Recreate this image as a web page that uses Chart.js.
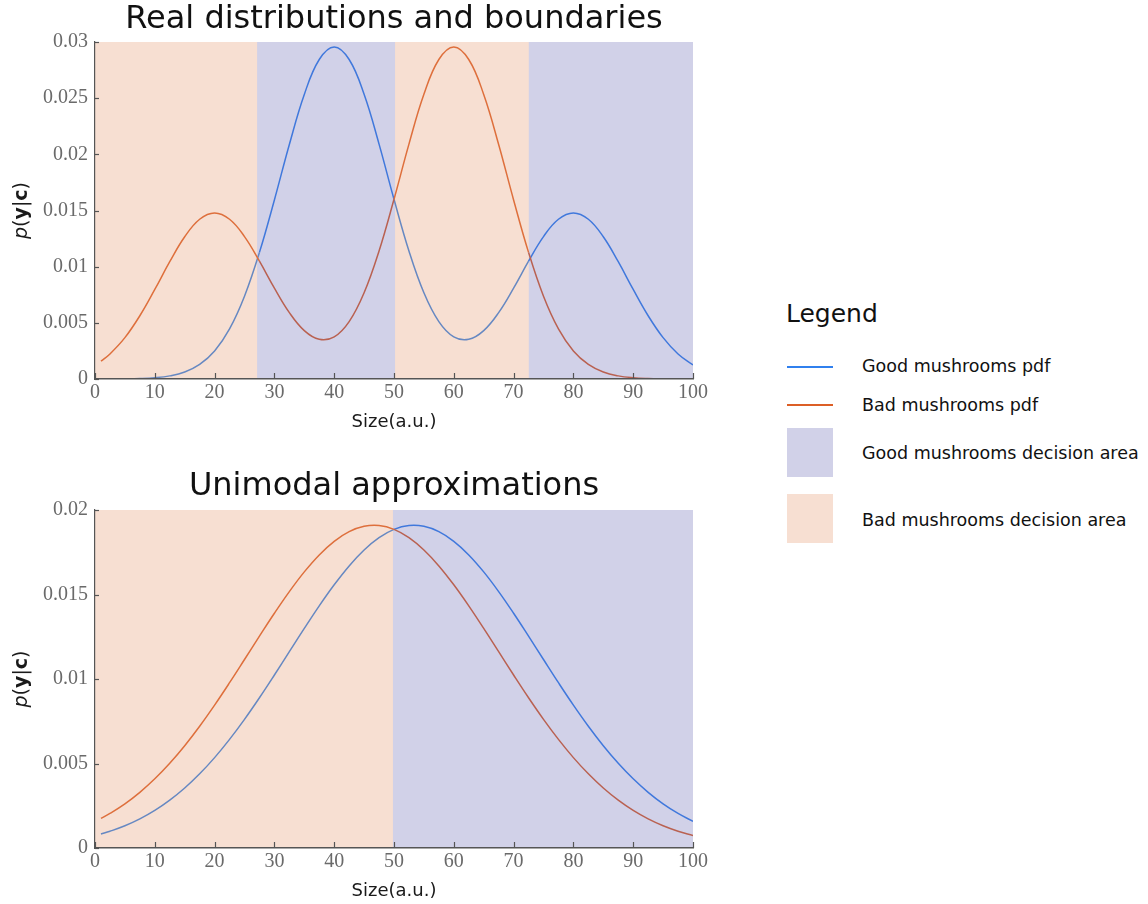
<!DOCTYPE html>
<html>
<head>
<meta charset="utf-8">
<script src="https://cdn.jsdelivr.net/npm/chart.js@4.4.1/dist/chart.umd.min.js"></script>
<style>
  html, body { margin: 0; padding: 0; background: #ffffff; }
  body { width: 1148px; height: 904px; position: relative; overflow: hidden; font-family: "DejaVu Sans", sans-serif; }
  canvas { position: absolute; left: 0; }
  #c1 { top: 0; }
  #c2 { top: 440px; }
  .lg { position: absolute; color: #111; white-space: nowrap; }
  .lgtitle { left: 786px; top: 301px; font-size: 25px; line-height: 25px; }
  .lgtext { left: 862px; font-size: 17.5px; line-height: 20px; }
  .lgline { position: absolute; left: 787px; width: 46px; height: 2px; }
  .lgbox { position: absolute; left: 787px; width: 46px; height: 49px; }
</style>
</head>
<body>
<canvas id="c1" width="720" height="440"></canvas>
<canvas id="c2" width="720" height="464"></canvas>

<div class="lg lgtitle">Legend</div>
<div class="lgline" style="top:366px;background:#3080ee"></div>
<div class="lg lgtext" style="top:356px">Good mushrooms pdf</div>
<div class="lgline" style="top:404px;background:#dc5f26"></div>
<div class="lg lgtext" style="top:395px">Bad mushrooms pdf</div>
<div class="lgbox" style="top:428px;background:#d1d1e8"></div>
<div class="lg lgtext" style="top:443px">Good mushrooms decision area</div>
<div class="lgbox" style="top:494px;background:#f7dfd2"></div>
<div class="lg lgtext" style="top:510px">Bad mushrooms decision area</div>

<script>
// ---------------- data ----------------
const xs = [1, 2.5, 5, 7.5, 10, 12.5, 15, 17.5, 20, 22.5, 25, 27.5, 30, 32.5, 35, 37.5, 40, 42.5, 45, 47.5, 50,
            52.5, 55, 57.5, 60, 62.5, 65, 67.5, 70, 72.5, 75, 77.5, 80, 82.5, 85, 87.5, 90, 92.5, 95, 97.5, 100];

const topGood = [0.0000025, 0.000005, 0.0000154, 0.0000436, 0.000114, 0.000278, 0.000624, 0.0013, 0.0025, 0.00446,
                 0.00737, 0.01127, 0.01594, 0.02088, 0.02533, 0.02844, 0.02956, 0.02844, 0.02534, 0.02091, 0.016,
                 0.0114, 0.00768, 0.00511, 0.00375, 0.00353, 0.00431, 0.00591, 0.00809, 0.01049, 0.01268,
                 0.01422, 0.01478, 0.01422, 0.01266, 0.01044, 0.00797, 0.00563, 0.00368, 0.00223, 0.00125];

const topBad = [0.00159, 0.00223, 0.00368, 0.00563, 0.00797, 0.01044, 0.01266, 0.01422, 0.01478, 0.01422,
                0.01268, 0.01049, 0.00809, 0.00591, 0.00431, 0.00353, 0.00375, 0.00511, 0.00768, 0.0114, 0.016,
                0.02091, 0.02534, 0.02844, 0.02956, 0.02844, 0.02533, 0.02088, 0.01594, 0.01127, 0.00737,
                0.00446, 0.0025, 0.0013, 0.000624, 0.000278, 0.000114, 0.0000436, 0.0000154, 0.000005, 0.0000015];

const bottomGood = [0.000829, 0.00099, 0.001315, 0.001722, 0.002222, 0.002829, 0.003548, 0.004388, 0.005348, 0.006427,
                    0.007613, 0.00889, 0.010235, 0.011615, 0.012993, 0.014329, 0.015576, 0.016693, 0.017634, 0.018364,
                    0.018853, 0.019079, 0.019033, 0.018718, 0.018146, 0.017342, 0.016338, 0.015173, 0.013891,
                    0.012536, 0.011153, 0.009781, 0.008456, 0.007207, 0.006055, 0.005014, 0.004094, 0.003295,
                    0.002614, 0.002045, 0.001576];

const bottomBad = [0.001752, 0.002045, 0.002614, 0.003295, 0.004094, 0.005014, 0.006055, 0.007207, 0.008456, 0.009781,
                   0.011153, 0.012536, 0.013891, 0.015173, 0.016338, 0.017342, 0.018146, 0.018718, 0.019033, 0.019079,
                   0.018853, 0.018364, 0.017634, 0.016693, 0.015576, 0.014329, 0.012993, 0.011615, 0.010235,
                   0.00889, 0.007613, 0.006427, 0.005348, 0.004388, 0.003548, 0.002829, 0.002222, 0.001722,
                   0.001315, 0.00099, 0.000734];

// decision areas: edges along x and the class of each interval
const topRegionEdges = [0, 27.3, 50, 72.7, 100];
const topRegionClasses = ['bad', 'good', 'bad', 'good'];
const bottomRegionEdges = [0, 50, 100];
const bottomRegionClasses = ['bad', 'good'];

const xTicks = [0, 10, 20, 30, 40, 50, 60, 70, 80, 90, 100];
const yTicksTop = [0, 0.005, 0.01, 0.015, 0.02, 0.025, 0.03];
const yTicksBottom = [0, 0.005, 0.01, 0.015, 0.02];

// ---------------- styling ----------------
const REGION_FILL = { good: '#d1d1e8', bad: '#f7dfd2' };
// line colour as seen through each decision area's tint
const LINE_COLORS = {
  good: { good: '#4078dc', bad: '#6688c2' },
  bad:  { good: '#b96151', bad: '#de6f3c' }
};
const TICK_FONT = { family: '"Liberation Serif", "Times New Roman", serif', size: 20 };
const TICK_COLOR = '#6a6a6a';
const AXIS_COLOR = '#555555';

const axisDecor = {
  id: 'axisDecor',
  afterDraw(chart) {
    const { ctx, chartArea: a, scales: { x, y } } = chart;
    ctx.save();
    ctx.strokeStyle = AXIS_COLOR;
    ctx.lineWidth = 1.2;
    x.ticks.forEach(t => {
      const px = Math.round(x.getPixelForValue(t.value)) + 0.5;
      ctx.beginPath(); ctx.moveTo(px, a.bottom); ctx.lineTo(px, a.bottom - 6); ctx.stroke();
    });
    y.ticks.forEach(t => {
      const py = Math.round(y.getPixelForValue(t.value)) + 0.5;
      ctx.beginPath(); ctx.moveTo(a.left, py); ctx.lineTo(a.left + 4, py); ctx.stroke();
    });
    // y axis title p(y|c) with mixed styles
    const fam = '"DejaVu Sans", sans-serif';
    const parts = [
      ['p', 'italic 19px ' + fam], ['(', '19px ' + fam], ['y', 'bold 19px ' + fam],
      ['|', '19px ' + fam], ['c', 'bold 19px ' + fam], [')', '19px ' + fam]
    ];
    let total = 0;
    parts.forEach(p => { ctx.font = p[1]; total += ctx.measureText(p[0]).width; });
    ctx.translate(22, (a.top + a.bottom) / 2);
    ctx.rotate(-Math.PI / 2);
    ctx.fillStyle = '#1a1a1a';
    ctx.textBaseline = 'middle';
    ctx.textAlign = 'left';
    let cx = -total / 2;
    parts.forEach(p => { ctx.font = p[1]; ctx.fillText(p[0], cx, 0); cx += ctx.measureText(p[0]).width; });
    ctx.restore();
  }
};

function regionAt(edges, classes, xv) {
  for (let i = 0; i < classes.length; i++) {
    if (xv >= edges[i] && xv <= edges[i + 1]) return classes[i];
  }
  return classes[classes.length - 1];
}

function buildChart(id, opts) {
  const seg = kind => ({
    borderColor: c => LINE_COLORS[kind][regionAt(opts.edges, opts.classes, (c.p0.parsed.x + c.p1.parsed.x) / 2)]
  });
  const datasets = [
    { data: xs.map((x, i) => ({ x, y: opts.good[i] })), borderColor: LINE_COLORS.good.good, borderWidth: 1.5,
      pointRadius: 0, fill: false, tension: 0.4, segment: seg('good'), order: 2 },
    { data: xs.map((x, i) => ({ x, y: opts.bad[i] })), borderColor: LINE_COLORS.bad.bad, borderWidth: 1.5,
      pointRadius: 0, fill: false, tension: 0.4, segment: seg('bad'), order: 1 }
  ];
  // decision areas (good areas drawn last, overlapping a hair so no seam shows)
  opts.classes.forEach((c, i) => {
    const pad = c === 'good' ? 0.2 : 0;
    datasets.push({
      data: [{ x: Math.max(0, opts.edges[i] - pad), y: opts.yMax },
             { x: Math.min(100, opts.edges[i + 1] + pad), y: opts.yMax }],
      borderWidth: 0, borderColor: 'rgba(0,0,0,0)', pointRadius: 0, tension: 0,
      backgroundColor: REGION_FILL[c], fill: 'start', order: c === 'good' ? 10 : 11
    });
  });
  return new Chart(document.getElementById(id), {
    type: 'line',
    data: { datasets },
    options: {
      responsive: false,
      animation: false,
      layout: { padding: { left: 0, right: 27, top: 0, bottom: 0 } },
      plugins: {
        legend: { display: false },
        tooltip: { enabled: false },
        title: {
          display: true, text: opts.title, color: '#111', fullSize: false,
          font: { family: '"DejaVu Sans", sans-serif', size: 32, weight: 'normal', lineHeight: 1.2 },
          padding: opts.titlePad
        }
      },
      scales: {
        x: {
          type: 'linear', min: 0, max: 100,
          afterBuildTicks: s => { s.ticks = xTicks.map(v => ({ value: v })); },
          afterFit: s => { s.height = opts.xAxisHeight; },
          grid: { display: false, drawTicks: false },
          border: { display: true, color: AXIS_COLOR, width: 1.5, z: 1 },
          ticks: { font: TICK_FONT, color: TICK_COLOR, padding: 2, maxRotation: 0, autoSkip: false,
                   callback: v => String(v) },
          title: { display: true, text: 'Size(a.u.)', color: '#1a1a1a',
                   font: { family: '"DejaVu Sans", sans-serif', size: 18, lineHeight: 1.2 },
                   padding: { top: 0, bottom: opts.xTitleBottom } }
        },
        y: {
          type: 'linear', min: 0, max: opts.yMax,
          afterBuildTicks: s => { s.ticks = opts.yTicks.map(v => ({ value: v })); },
          afterFit: s => { s.width = 95; },
          grid: { display: false, drawTicks: false },
          border: { display: true, color: AXIS_COLOR, width: 1.2, z: 1 },
          ticks: { font: TICK_FONT, color: TICK_COLOR, padding: 7, autoSkip: false,
                   callback: v => String(v) }
        }
      }
    },
    plugins: [axisDecor]
  });
}

buildChart('c1', {
  title: 'Real distributions and boundaries', good: topGood, bad: topBad,
  edges: topRegionEdges, classes: topRegionClasses, yMax: 0.03, yTicks: yTicksTop,
  titlePad: { top: 0, bottom: 3.6 }, xAxisHeight: 61, xTitleBottom: 7
});
buildChart('c2', {
  title: 'Unimodal approximations', good: bottomGood, bad: bottomBad,
  edges: bottomRegionEdges, classes: bottomRegionClasses, yMax: 0.02, yTicks: yTicksBottom,
  titlePad: { top: 27.6, bottom: 4 }, xAxisHeight: 56, xTitleBottom: 2
});
</script>
</body>
</html>
